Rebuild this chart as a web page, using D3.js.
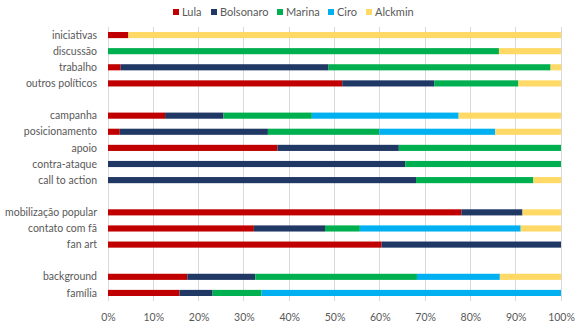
<!DOCTYPE html>
<html>
<head>
<meta charset="utf-8">
<script src="https://cdn.jsdelivr.net/npm/d3@7"></script>
<style>
  body { margin: 0; background: #fff; }
  svg { display: block; font-family: Lato, "Open Sans", sans-serif; }
</style>
</head>
<body>
<div id="chart"></div>
<script>
// categories top to bottom; blank entries are the gaps between groups
const categories = [
  'iniciativas', 'discussão', 'trabalho', 'outros políticos', '',
  'campanha', 'posicionamento', 'apoio', 'contra-ataque', 'call to action', ' ',
  'mobilização popular', 'contato com fã', 'fan art', '  ',
  'background', 'família'
];
const seriesNames = ['Lula', 'Bolsonaro', 'Marina', 'Ciro', 'Alckmin'];
const seriesColors = ['#c00000', '#203864', '#00b050', '#00b0f0', '#ffd966'];

// shares in percent, one array per candidate, aligned with categories
const lula      = [4.5, 0, 2.8, 51.7, 0, 12.6, 2.6, 37.4, 0, 0, 0, 78.0, 32.2, 60.4, 0, 17.5, 15.8];
const bolsonaro = [0, 0, 45.9, 20.3, 0, 12.9, 32.7, 26.8, 65.6, 68.0, 0, 13.5, 15.7, 39.6, 0, 15.0, 7.3];
const marina    = [0, 86.3, 49.0, 18.6, 0, 19.5, 24.6, 35.8, 34.4, 25.9, 0, 0, 7.7, 0, 0, 35.7, 10.8];
const ciro      = [0, 0, 0, 0, 0, 32.4, 25.6, 0, 0, 0, 0, 0, 35.5, 0, 0, 18.3, 66.1];
const alckmin   = [95.5, 13.7, 2.3, 9.4, 0, 22.6, 14.5, 0, 0, 6.1, 0, 8.5, 8.9, 0, 0, 13.5, 0];

const xTicks = [0, 10, 20, 30, 40, 50, 60, 70, 80, 90, 100];

const width = 580;
const height = 326;
const margin = { top: 27, right: 19, bottom: 25, left: 108 };

const rows = categories.map((c, i) => ({
  cat: c,
  Lula: lula[i],
  Bolsonaro: bolsonaro[i],
  Marina: marina[i],
  Ciro: ciro[i],
  Alckmin: alckmin[i]
}));

const svg = d3.select('#chart').append('svg')
  .attr('width', width)
  .attr('height', height);

const x = d3.scaleLinear().domain([0, 100]).range([margin.left, width - margin.right]);
const y = d3.scaleBand()
  .domain(categories)
  .range([margin.top, height - margin.bottom])
  .paddingInner(0.62)
  .paddingOuter(0.31);

const color = d3.scaleOrdinal().domain(seriesNames).range(seriesColors);

// grid
svg.append('g')
  .selectAll('line')
  .data(xTicks)
  .join('line')
  .attr('x1', d => x(d)).attr('x2', d => x(d))
  .attr('y1', margin.top).attr('y2', height - margin.bottom)
  .attr('stroke', '#d9d9d9')
  .attr('stroke-width', 1)
  .attr('shape-rendering', 'crispEdges');

// bars
const layers = d3.stack().keys(seriesNames)(rows);

svg.append('g')
  .selectAll('g')
  .data(layers)
  .join('g')
  .attr('fill', d => color(d.key))
  .selectAll('rect')
  .data(d => d.filter(s => s[1] - s[0] > 0))
  .join('rect')
  .attr('x', d => x(d[0]))
  .attr('width', d => x(d[1]) - x(d[0]))
  .attr('y', d => y(d.data.cat))
  .attr('height', y.bandwidth());

// category labels
svg.append('g')
  .selectAll('text')
  .data(categories.filter(c => c.trim() !== ''))
  .join('text')
  .attr('x', margin.left - 11)
  .attr('y', d => y(d) + y.bandwidth() / 2)
  .attr('dy', '0.35em')
  .attr('text-anchor', 'end')
  .attr('fill', '#595959')
  .attr('font-size', 10.5)
  .text(d => d);

// x axis
const xAxis = d3.axisBottom(x)
  .tickValues(xTicks)
  .tickFormat(d => d + '%')
  .tickSize(0)
  .tickPadding(11);

const axisG = svg.append('g')
  .attr('transform', `translate(0,${height - margin.bottom + 2})`)
  .call(xAxis);
axisG.select('.domain').remove();
axisG.selectAll('text')
  .attr('fill', '#595959')
  .attr('font-size', 10.5)
  .attr('font-family', 'Lato, "Open Sans", sans-serif');

// legend
const legendX = [173, 211, 277, 328, 366];
const legend = svg.append('g')
  .selectAll('g')
  .data(seriesNames)
  .join('g')
  .attr('transform', (d, i) => `translate(${legendX[i]},12)`);

legend.append('rect')
  .attr('x', 0).attr('y', -3)
  .attr('width', 6).attr('height', 6)
  .attr('fill', d => color(d));

legend.append('text')
  .attr('x', 9)
  .attr('dy', '0.35em')
  .attr('fill', '#595959')
  .attr('font-size', 11)
  .text(d => d);
</script>
</body>
</html>
